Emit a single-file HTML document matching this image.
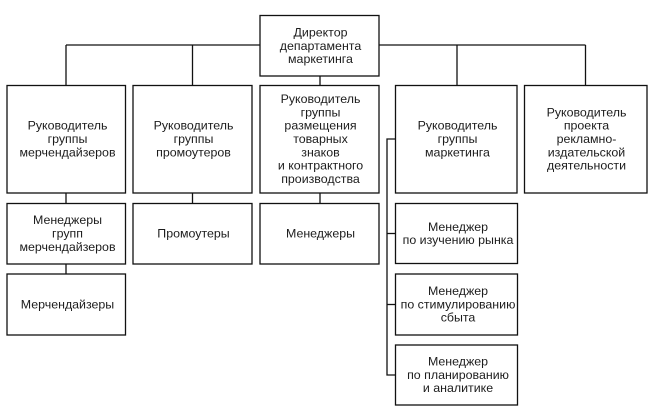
<!DOCTYPE html>
<html><head><meta charset="utf-8">
<style>
html,body{margin:0;padding:0;background:#fff;}
svg{display:block;}
text{font-family:"Liberation Sans","DejaVu Sans",sans-serif;font-size:12.4px;fill:#1c1c1c;text-anchor:middle;}
</style></head>
<body>
<svg width="654" height="410" viewBox="0 0 654 410" xmlns="http://www.w3.org/2000/svg">
<g stroke="#111" stroke-width="1.3" fill="none">
  <!-- connectors -->
  <line x1="66" y1="45" x2="585.5" y2="45"/>
  <line x1="66" y1="45" x2="66" y2="85.5"/>
  <line x1="192.5" y1="45" x2="192.5" y2="85.5"/>
  <line x1="457" y1="45" x2="457" y2="85.5"/>
  <line x1="585.5" y1="45" x2="585.5" y2="85.5"/>
  <line x1="320" y1="76" x2="320" y2="85.5"/>
  <line x1="66" y1="193" x2="66" y2="203.5"/>
  <line x1="66" y1="264" x2="66" y2="274"/>
  <line x1="192.5" y1="193" x2="192.5" y2="203.5"/>
  <line x1="320" y1="193" x2="320" y2="203.5"/>
  <polyline points="395.5,139 387,139 387,375 395.5,375"/>
  <line x1="387" y1="233.5" x2="395.5" y2="233.5"/>
  <line x1="387" y1="304.5" x2="395.5" y2="304.5"/>
</g>
<g stroke="#111" stroke-width="1.3" fill="#fff">
  <rect x="260" y="15.5" width="119" height="60.5"/>
  <rect x="7" y="85.5" width="118.5" height="107.5"/>
  <rect x="133" y="85.5" width="119" height="107.5"/>
  <rect x="260" y="85.5" width="119" height="107.5"/>
  <rect x="395.5" y="85.5" width="121.5" height="107.5"/>
  <rect x="524.5" y="85.5" width="122.5" height="107.5"/>
  <rect x="7" y="203.5" width="118.5" height="60.5"/>
  <rect x="133" y="203.5" width="119" height="60.5"/>
  <rect x="260" y="203.5" width="119" height="60.5"/>
  <rect x="395.5" y="203.5" width="122" height="60"/>
  <rect x="7" y="274" width="118.5" height="61"/>
  <rect x="395.5" y="274" width="122" height="61"/>
  <rect x="395.5" y="345" width="122" height="60"/>
</g>
<g>
  <text x="320.5" y="36.5">Директор</text>
  <text x="320.5" y="49.8">департамента</text>
  <text x="320.5" y="63.1">маркетинга</text>

  <text x="67.5" y="129.7">Руководитель</text>
  <text x="67.5" y="143">группы</text>
  <text x="67.5" y="156.3">мерчендайзеров</text>

  <text x="193.5" y="129.7">Руководитель</text>
  <text x="193.5" y="143">группы</text>
  <text x="193.5" y="156.3">промоутеров</text>

  <text x="320.5" y="103">Руководитель</text>
  <text x="320.5" y="116.3">группы</text>
  <text x="320.5" y="129.7">размещения</text>
  <text x="320.5" y="143">товарных</text>
  <text x="320.5" y="156.3">знаков</text>
  <text x="320.5" y="169.7">и контрактного</text>
  <text x="320.5" y="183">производства</text>

  <text x="457.5" y="129.7">Руководитель</text>
  <text x="457.5" y="143">группы</text>
  <text x="457.5" y="156.3">маркетинга</text>

  <text x="586.5" y="116.3">Руководитель</text>
  <text x="586.5" y="129.7">проекта</text>
  <text x="586.5" y="143">рекламно-</text>
  <text x="586.5" y="156.3">издательской</text>
  <text x="586.5" y="169.7">деятельности</text>

  <text x="67.5" y="224.2">Менеджеры</text>
  <text x="67.5" y="237.5">групп</text>
  <text x="67.5" y="250.8">мерчендайзеров</text>

  <text x="193.5" y="237.5">Промоутеры</text>
  <text x="320.5" y="237.5">Менеджеры</text>

  <text x="458" y="230.9">Менеджер</text>
  <text x="458" y="244.2">по изучению рынка</text>

  <text x="67.5" y="308.3">Мерчендайзеры</text>

  <text x="458" y="295">Менеджер</text>
  <text x="458" y="308.3">по стимулированию</text>
  <text x="458" y="321.6">сбыта</text>

  <text x="458" y="365.5">Менеджер</text>
  <text x="458" y="378.8">по планированию</text>
  <text x="458" y="392.1">и аналитике</text>
</g>
</svg>
</body></html>
